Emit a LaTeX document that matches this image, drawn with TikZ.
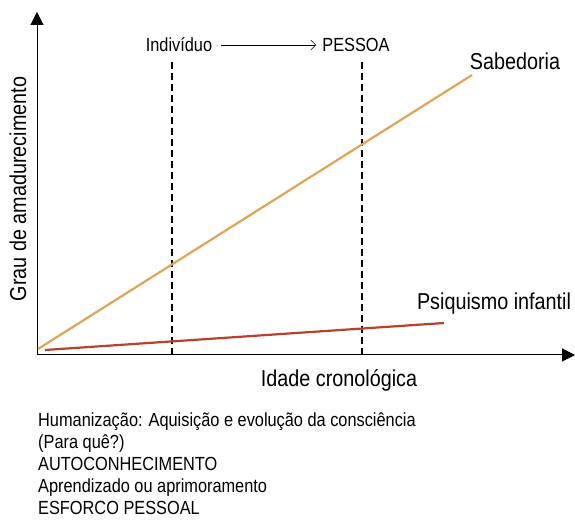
\documentclass[tikz,border=0pt]{standalone}
\usepackage{fontspec}
\setmainfont{Liberation Sans}[FakeStretch=0.86]
\usetikzlibrary{arrows.meta, positioning}
\definecolor{wisdom}{RGB}{224,164,84}
\definecolor{infant}{RGB}{184,64,44}
\tikzstyle{axis} = [-{Triangle[length=13pt, width=13pt]}, line width=1pt]
\tikzstyle{guide} = [line width=2pt, dash pattern=on 7pt off 4pt]
\tikzstyle{trend} = [line width=2.2pt]
\tikzstyle{label} = [font=\fontsize{23}{26}\selectfont, inner sep=0pt]
\tikzstyle{stage} = [font=\fontsize{19}{22}\selectfont, inner sep=0pt]
\tikzstyle{note} = [font=\fontsize{19}{22}\selectfont, inner sep=0pt, anchor=base west]

\begin{document}
\begin{tikzpicture}[x=1pt, y=1pt]
    \useasboundingbox (0,0) rectangle (575,521);

    % Axes.
    \coordinate (origin) at (37,166);
    \coordinate (ytip) at (37,509);
    \coordinate (xtip) at (575,166);
    \draw [axis] (origin) -- (ytip);
    \draw [axis] (origin) -- (xtip);
    \node (ylabel) [label, rotate=90] at (18,332) {Grau de amadurecimento};
    \node (xlabel) [label] at (339,141) {Idade cronológica};

    % Stages.
    \node (indiv) [stage] at (179,476) {Indivíduo};
    \node (person) [stage] at (356,476) {PESSOA};
    \draw [-{Straight Barb[length=5pt]}, line width=0.6pt] ([xshift=9pt]indiv.east) -- ([xshift=-6pt]person.west);
    \foreach \x/\n in {172/a, 362/b} {
        \coordinate (top\n) at (\x,459);
        \coordinate (foot\n) at (\x,166);
        \draw [guide] (top\n) -- (foot\n);
    }

    % Lines.
    \coordinate (wisdom0) at (38,172);
    \coordinate (wisdom1) at (472,446);
    \coordinate (infant0) at (45,171);
    \coordinate (infant1) at (444,198);
    \draw [trend, wisdom] (wisdom0) -- (wisdom1);
    \draw [trend, infant] (infant0) -- (infant1);
    \node (sage) [label] at (515,460) {Sabedoria};
    \node (child) [label] at (494,217) {Psiquismo infantil};

    % Notes.
    \foreach \t [count=\i] in {Humanização: Aquisição e evolução da consciência,
        (Para quê?), AUTOCONHECIMENTO, Aprendizado ou aprimoramento, ESFORCO PESSOAL} {
        \node (note\i) [note] at (38,{94-22*(\i-1)}) {\t};
    }
\end{tikzpicture}
\end{document}
